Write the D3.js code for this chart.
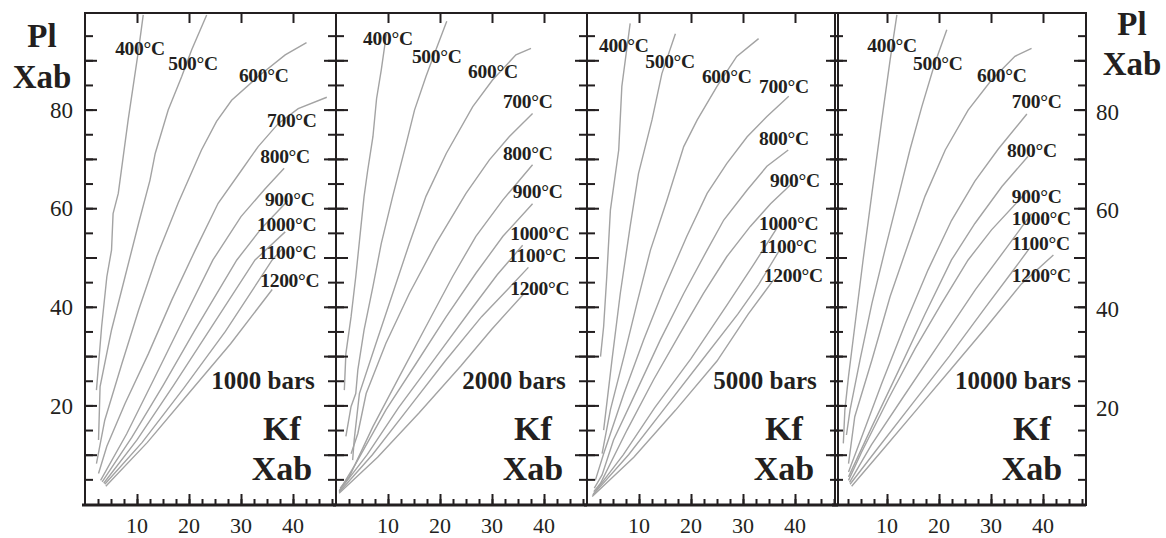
<!DOCTYPE html>
<html lang="en"><head>
<meta charset="utf-8">
<title>Kf - Pl Xab</title>
<script src="https://cdn.jsdelivr.net/npm/d3@7"></script>
<style>
body { margin: 0; background: #fff; }
text { font-family: "Liberation Serif", "Times New Roman", serif; fill: #231f20; }
</style>
</head>
<body>
<script>

var width = 1166;
var height = 538;

// pressures (one panel each) and isotherms
var pressures = ["1000 bars", "2000 bars", "5000 bars", "10000 bars"];
var temps = ["400°C", "500°C", "600°C", "700°C", "800°C", "900°C", "1000°C", "1100°C", "1200°C"];

var xTickLabels = [10, 20, 30, 40];
var yTickLabels = [20, 40, 60, 80];

// isotherms, [Kf Xab, Pl Xab], one list per pressure
var curves1000 = [
  [[2.2,23.1],[3.2,36.0],[4.2,46.1],[5.1,51.5],[5.4,58.9],[6.4,63.0],[8.3,77.9],[10.3,92.1],[11.2,99.2]],
  [[2.6,13.0],[2.9,23.8],[5.1,35.3],[7.7,46.1],[10.3,56.9],[12.5,65.7],[13.5,71.1],[16.0,79.9],[18.6,86.7],[20.5,92.1],[23.4,99.2]],
  [[2.2,8.2],[3.8,17.0],[7.1,28.5],[10.3,39.3],[13.8,50.2],[17.9,61.0],[22.4,71.8],[25.3,77.6],[28.2,81.9],[33.3,86.7],[38.5,91.1],[42.6,93.6]],
  [[2.6,6.2],[4.2,11.7],[7.7,20.4],[12.2,30.5],[16.7,41.4],[21.2,51.5],[25.6,61.0],[30.1,67.7],[33.3,72.5],[37.2,77.2],[41.0,80.2],[46.5,82.5]],
  [[3.0,4.8],[8,14.2],[13,24.8],[18,35.5],[24.6,49.5],[30,58.3],[34.6,63.9],[38.3,68.1]],
  [[3.3,4.5],[9,13.5],[15,24],[21,35],[29.2,49.5],[34,56],[39,61.5]],
  [[3.6,4.2],[10,13],[17,24],[25,37],[32.7,49.5],[38.5,55.2]],
  [[3.8,4.0],[11,12.5],[19,23.5],[27,35],[36,49.5],[38,51.8]],
  [[4.0,3.6],[12,12.5],[20,22.5],[28,32.5],[36,43.5]]
];
var curves2000 = [
  [[1.6,23.1],[1.9,30.5],[2.9,38.0],[3.8,46.1],[4.8,56.3],[5.4,62.4],[6.1,67.7],[7.1,74.5],[7.8,82.2],[8.7,88.0],[9.7,95.4]],
  [[1.9,13.7],[2.9,19.8],[3.8,22.4],[4.2,27.2],[5.4,35.3],[7.1,44.1],[8.7,52.8],[10.9,62.4],[13.5,73.1],[15.1,79.9],[17.3,86.7],[19.2,92.1],[21.3,97.9]],
  [[3.2,8.9],[3.5,13.0],[4.5,22.4],[7.7,32.6],[10.9,42.7],[14.1,52.8],[17.3,62.4],[21.2,71.1],[26.3,80.6],[30.1,86.0],[34.6,91.1],[37.5,92.4]],
  [[2.9,10.2],[4.2,14.3],[5.8,22.4],[9.6,32.6],[14.1,42.7],[19.2,52.8],[25.0,63.0],[29.5,69.8],[33.3,74.5],[37.8,79.2]],
  [[0.8,3.2],[2.6,5.6],[7.1,15.7],[12.2,25.9],[17.3,36.0],[22.4,46.1],[26.9,54.3],[32.1,61.7],[37.8,68.8]],
  [[0.7,2.8],[3.8,8.2],[9.6,19.1],[15.4,28.5],[21.2,38.0],[26.9,46.8],[32.1,54.3],[37.8,60.9]],
  [[0.6,2.6],[6,10],[12,19.5],[19,29.5],[26,39.5],[31,46.5],[35.9,52.5]],
  [[0.6,2.4],[7,10],[14,19.5],[21,29],[28,38],[33,43.5],[37,48]],
  [[0.6,2.2],[8,9.5],[16,18.5],[24,28],[30,35.5],[36,42.5]]
];
var curves5000 = [
  [[2.6,29.9],[3.2,36.0],[3.8,46.1],[4.5,59.6],[6.1,71.8],[6.7,84.7],[8.3,97.5]],
  [[3.2,15.0],[4.8,29.2],[6.4,42.7],[8.3,56.3],[9.9,67.0],[12.5,77.9],[14.4,87.3],[17.0,95.4]],
  [[2.9,10.2],[4.5,19.1],[7.1,29.9],[9.6,40.7],[12.2,51.5],[15.4,61.7],[18.6,72.5],[21.2,77.9],[25.0,84.7],[28.8,90.8],[33.0,94.4]],
  [[1.6,4.8],[3.2,10.2],[7.1,22.4],[10.9,33.3],[14.7,43.4],[19.2,54.3],[23.1,63.0],[26.9,69.1],[30.8,74.5],[34.6,78.6],[38.8,82.7]],
  [[1.4,3.2],[2.9,5.9],[5.1,13.0],[9.6,23.1],[14.1,33.3],[18.6,42.7],[23.1,51.5],[26.3,57.6],[30.8,63.7],[34.6,68.5],[38.7,71.8]],
  [[1.3,2.5],[2.6,4.2],[7.7,15.0],[12.8,25.2],[17.9,34.6],[22.4,42.7],[26.9,50.2],[31.4,56.3],[35.3,60.9],[39.1,64.7]],
  [[1.2,2.0],[7,10],[13,19.5],[20,29.5],[27,40.5],[32,48.5],[37.5,57.6]],
  [[1.1,1.8],[8,10],[15,19.5],[22,29],[29,38.5],[33,44.5],[37.2,51.8]],
  [[1.0,1.5],[9,9.5],[17,19],[25,29],[31,38.5],[35.9,45.5]]
];
var curves10000 = [
  [[1.6,12.3],[1.9,19.1],[2.6,25.9],[3.8,36.0],[5.4,49.5],[7.1,63.0],[9.0,77.9],[10.6,90.1],[11.9,99.2]],
  [[2.2,14.0],[2.9,19.1],[4.8,29.2],[7.1,40.7],[9.6,51.5],[12.2,62.4],[14.4,71.8],[16.7,80.6],[19.2,89.4],[21.5,96.2]],
  [[2.6,8.2],[3.8,17.7],[7.1,29.2],[10.6,42.1],[14.1,52.8],[17.3,62.4],[21.2,71.8],[25.6,79.9],[30.1,86.0],[34.6,90.8],[37.8,92.4]],
  [[2.6,6.5],[5.1,13.5],[9.0,24.5],[13.5,36.5],[17.9,47.5],[22.4,57.5],[26.9,65.5],[31.4,72.0],[36.9,79.1]],
  [[2.6,5.5],[7.1,15.7],[12.2,27.0],[17.3,38.5],[22.4,49.5],[26.9,56.9],[32.1,64.4],[37.1,70.5]],
  [[2.6,4.8],[5.1,10.5],[10.3,21.4],[15.4,31.5],[20.5,40.7],[25.6,49.5],[30.1,55.6],[37.2,63.7]],
  [[2.8,4.4],[7,12],[13,21.5],[20,32.5],[27,43.5],[33,52],[37.8,58.9]],
  [[2.9,4.0],[8,11],[15,20.5],[22,30],[29,40],[34,47],[37.5,52]],
  [[3.2,3.6],[9.6,11.5],[16,19.5],[22.4,27.5],[28.8,35.5],[35.9,44.7],[42,50.5]]
];

// isotherm label anchors (left / baseline), same units
var labels1000 = [[5.8,91.1],[16.0,88.0],[29.6,85.6],[35.0,76.5],[33.7,69.2],[34.6,60.4],[33.1,55.4],[33.3,49.7],[33.7,44.0]];
var labels2000 = [[5.2,93.1],[14.6,89.4],[25.4,86.4],[32.1,80.3],[32.1,69.8],[34.0,62.1],[33.5,53.5],[33.1,49.1],[33.5,42.4]];
var labels5000 = [[2.3,91.7],[11.2,88.4],[22.1,85.4],[33.1,83.4],[33.1,72.8],[35.2,64.3],[33.1,55.6],[33.1,50.9],[34.0,45.0]];
var labels10000 = [[6.2,91.7],[15.0,88.0],[27.3,85.6],[34.0,80.3],[33.1,70.4],[34.0,61.1],[34.0,56.6],[34.0,51.5],[34.0,45.0]];

var panelCurves = [curves1000, curves2000, curves5000, curves10000];
var panelLabels = [labels1000, labels2000, labels5000, labels10000];

// layout
var panelLeft = [85, 336, 587, 835];
var panelWidth = 251;
var plotTop = 13, plotBottom = 505;

var y = d3.scaleLinear().domain([0, 100]).range([504, 11]);

var svg = d3.select("body").append("svg")
  .attr("width", width)
  .attr("height", height);

panelCurves.forEach(function(curves, p){

  var left = panelLeft[p];
  var x = d3.scaleLinear().domain([0, 48]).range([left, left + 249.6]);
  var g = svg.append("g");

  var line = d3.line()
    .x(function(d){ return x(d[0]); })
    .y(function(d){ return y(d[1]); });

  g.selectAll("path.iso")
    .data(curves).enter()
    .append("path")
    .attr("class", "iso")
    .attr("d", line)
    .attr("fill", "none")
    .attr("stroke", "#a3a3a3")
    .attr("stroke-width", 1.4);

  g.selectAll("text.tl")
    .data(panelLabels[p]).enter()
    .append("text")
    .attr("class", "tl")
    .attr("x", function(d){ return x(d[0]); })
    .attr("y", function(d){ return y(d[1]); })
    .attr("font-size", 19.5)
    .attr("font-weight", "bold")
    .attr("letter-spacing", -0.3)
    .text(function(d, i){ return temps[i]; });

  // ticks
  var minorX = d3.range(2.5, 48, 2.5);
  var minorY = d3.range(5, 100, 5);
  var majorY = d3.range(10, 100, 10);

  g.append("g").attr("transform", "translate(0," + plotBottom + ")")
    .call(d3.axisTop(x).tickValues(minorX).tickSize(6).tickSizeOuter(0).tickFormat(""));
  g.append("g").attr("transform", "translate(0," + plotBottom + ")")
    .call(d3.axisTop(x).tickValues(xTickLabels).tickSize(11).tickSizeOuter(0).tickFormat(""));
  g.append("g").attr("transform", "translate(0," + plotTop + ")")
    .call(d3.axisBottom(x).tickValues(xTickLabels).tickSize(10).tickSizeOuter(0).tickFormat(""));
  g.append("g").attr("transform", "translate(" + left + ",0)")
    .call(d3.axisRight(y).tickValues(minorY).tickSize(8).tickSizeOuter(0).tickFormat(""));
  g.append("g").attr("transform", "translate(" + left + ",0)")
    .call(d3.axisRight(y).tickValues(majorY).tickSize(12).tickSizeOuter(0).tickFormat(""));
  g.append("g").attr("transform", "translate(" + (left + panelWidth) + ",0)")
    .call(d3.axisLeft(y).tickValues(minorY).tickSize(8).tickSizeOuter(0).tickFormat(""));
  g.append("g").attr("transform", "translate(" + (left + panelWidth) + ",0)")
    .call(d3.axisLeft(y).tickValues(majorY).tickSize(12).tickSizeOuter(0).tickFormat(""));

  g.selectAll(".tick line").attr("stroke", "#231f20").attr("stroke-width", 2);
  g.selectAll(".domain").remove();

  // x tick labels
  g.selectAll("text.xl")
    .data(xTickLabels).enter()
    .append("text")
    .attr("class", "xl")
    .attr("x", function(d){ return x(d); })
    .attr("y", 533)
    .attr("text-anchor", "middle")
    .attr("font-size", 22)
    .text(function(d){ return d; });

  // frame
  g.append("rect")
    .attr("x", left).attr("y", plotTop)
    .attr("width", panelWidth).attr("height", plotBottom - plotTop)
    .attr("fill", "none")
    .attr("stroke", "#231f20")
    .attr("stroke-width", 2);
  g.append("line")
    .attr("x1", left - 3).attr("x2", left + panelWidth)
    .attr("y1", plotBottom).attr("y2", plotBottom)
    .attr("stroke", "#231f20").attr("stroke-width", 3);

  // panel captions
  g.append("text")
    .attr("x", left + 178).attr("y", 389)
    .attr("text-anchor", "middle")
    .attr("font-size", 25).attr("font-weight", "bold")
    .text(pressures[p]);
  g.append("text")
    .attr("x", left + 197).attr("y", 440)
    .attr("text-anchor", "middle")
    .attr("font-size", 34).attr("font-weight", "bold")
    .text("Kf");
  g.append("text")
    .attr("x", left + 197).attr("y", 480)
    .attr("text-anchor", "middle")
    .attr("font-size", 34).attr("font-weight", "bold")
    .text("Xab");
});

// outer y labels
svg.selectAll("text.yl")
  .data(yTickLabels).enter()
  .append("text")
  .attr("class", "yl")
  .attr("x", 73)
  .attr("y", function(d){ return y(d) + 3; })
  .attr("text-anchor", "end")
  .attr("dominant-baseline", "middle")
  .attr("font-size", 23)
  .text(function(d){ return d; });

svg.selectAll("text.yr")
  .data(yTickLabels).enter()
  .append("text")
  .attr("class", "yr")
  .attr("x", 1096)
  .attr("y", function(d){ return y(d) + 5; })
  .attr("dominant-baseline", "middle")
  .attr("font-size", 23)
  .text(function(d){ return d; });

[[42, 47, 88], [1132, 35, 75]].forEach(function(t){
  svg.append("text")
    .attr("x", t[0]).attr("y", t[1])
    .attr("text-anchor", "middle")
    .attr("font-size", 33).attr("font-weight", "bold")
    .text("Pl");
  svg.append("text")
    .attr("x", t[0]).attr("y", t[2])
    .attr("text-anchor", "middle")
    .attr("font-size", 33).attr("font-weight", "bold")
    .text("Xab");
});

</script>
</body></html>
